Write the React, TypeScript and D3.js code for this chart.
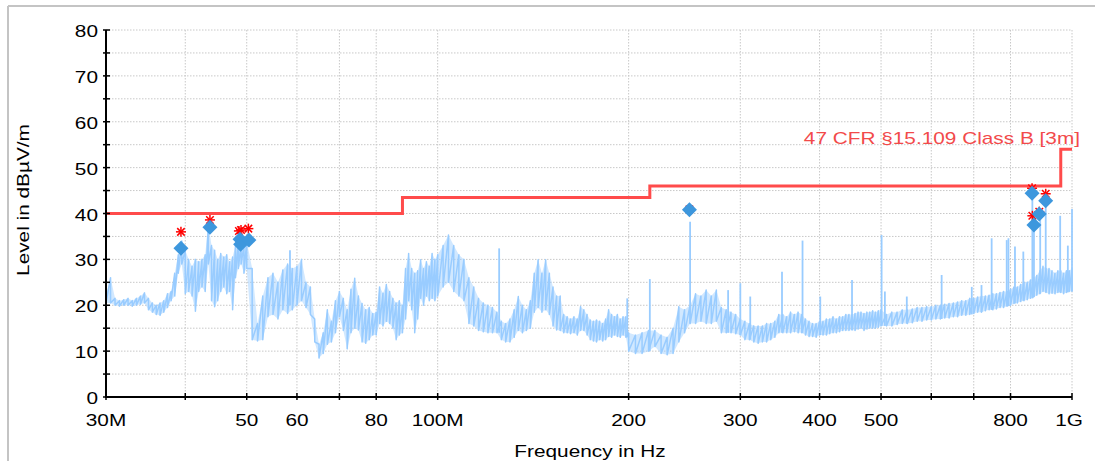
import React from "react";
import * as d3 from "d3";

const W = 1095;
const H = 461;

// ---- measured trace (MHz grid segments: start, step) ----
const segA = { start: 30, step: 0.5, n: 41 };
const segA_hi = [22, 26, 21.5, 21, 21.2, 21.5, 21, 21.5, 22, 22.7, 21.5, 20.5, 20, 20.5, 21, 22.5, 23, 27, 31, 34, 32, 30, 28.5, 30, 29.5, 30, 31, 37.8, 33, 32, 30, 31.3, 30.5, 31, 29.5, 30.5, 33, 34.2, 33.5, 33, 34];
const segA_lo = [20.5, 20.5, 20, 19.8, 20, 20, 19.8, 20, 20.2, 20.5, 19, 18.5, 18, 17.8, 18.5, 19.5, 21, 22, 27, 29, 22.5, 23, 22, 18.7, 23, 24, 23, 29, 21, 19.7, 21, 23, 24, 22.5, 23, 19, 26, 28, 29, 27, 28];

const segB = { start: 51, step: 1, n: 50 };
const segB_hi = [28, 16, 22, 26, 27, 25, 27.7, 29, 28, 28.5, 30, 25, 24, 17, 11.5, 14, 19, 16.5, 21, 23, 21.5, 19, 23.5, 25.9, 22, 20.4, 19, 19.5, 18.2, 18.5, 24, 22.6, 24.5, 23, 21.5, 20.5, 21, 20, 28, 31.3, 28, 27, 27.5, 29.9, 28, 29.5, 28.5, 31.3, 30, 31];
const segB_lo = [12.5, 12.2, 12.5, 17.5, 18, 17, 19, 18.2, 19, 20, 21, 19.5, 18, 12, 8.5, 9.5, 11.5, 12, 14, 17.5, 14.5, 10.5, 14, 15, 14.6, 12, 11.7, 12.5, 13.5, 13.5, 16, 15.5, 16.5, 16, 15, 12.5, 13.5, 14, 17, 21, 19, 14, 17, 21.5, 20, 22, 21, 21.5, 21, 22];

const segC = { start: 102, step: 2, n: 50 };
const segC_hi = [33, 35.3, 33, 31, 30, 26, 24, 21.5, 20.5, 20, 19.5, 18.5, 16.5, 16, 17, 19, 21.9, 20, 19, 21, 27, 29.9, 27, 29.9, 27, 24, 22, 22, 18, 17.5, 17, 17.5, 17, 19.7, 19, 18, 16.8, 16.5, 16.8, 16.5, 16, 17, 19, 18, 17.5, 18, 17, 17.5, 17.5, 14];
const segC_lo = [24, 25, 23, 22, 21, 16, 15.5, 14.5, 14.2, 14, 14, 14, 12.5, 12, 12, 13, 14.5, 14, 14.5, 15, 18.5, 19.5, 18.5, 19, 18, 15.5, 14.6, 14.5, 14, 14, 13.8, 14, 13.5, 14.5, 14.5, 13.5, 12.5, 12.2, 12, 12.5, 12.2, 12.5, 13.2, 13, 13.5, 13.2, 13, 13.5, 13, 10];

const segD = { start: 205, step: 5, n: 60 };
const segD_hi = [13.5, 14, 14.5, 14.5, 13.5, 13, 15, 19.7, 19, 20, 22.5, 22, 23.3, 22, 23.3, 19.5, 19, 18.5, 18, 17, 16.5, 16, 15.5, 15.5, 15.5, 16, 16, 16.5, 18, 18, 17.5, 18.5, 18, 18.5, 18, 17, 16.5, 16, 16, 16.5, 16.5, 17, 17, 17.5, 17, 17.5, 17.5, 18, 18, 18, 18.2, 18.5, 18.5, 18.2, 18.5, 18.5, 18.8, 18.5, 18.8, 19];
const segD_lo = [9.5, 9.5, 10, 11, 9.5, 9.2, 9.5, 12, 14, 16, 16, 16.5, 16, 16, 16.5, 14, 14, 14, 13.8, 13.5, 12.5, 12.5, 12, 11.7, 12, 12, 12.5, 13, 14, 14, 14, 14, 14.2, 14, 14, 13.5, 13.2, 13.2, 13, 13.5, 13.5, 13.5, 13.8, 14, 14, 14.2, 14.5, 14.5, 14.5, 14.6, 14.5, 14.8, 15, 14.5, 14.8, 15, 15, 15, 15.2, 15.5];

const segE = { start: 510, step: 10, n: 50 };
const segE_hi = [18, 18.5, 18.5, 19, 19, 19.2, 19.5, 19.5, 19.7, 19.7, 20, 20, 20.2, 20.4, 20.5, 20.7, 21, 21, 21.5, 21.5, 21.8, 22, 22, 22.2, 22.5, 22.5, 22.8, 23, 23, 23.5, 24, 24, 24.5, 25, 25, 25.5, 26, 26.5, 27.5, 28.5, 28, 28, 27.5, 27, 27.5, 27.5, 27, 27.5, 27.5, 28];
const segE_lo = [15.5, 15.5, 15.8, 16, 16, 16.2, 16.5, 16.5, 16.8, 16.8, 17, 17, 17.2, 17.2, 17.5, 17.5, 17.8, 17.8, 18, 18.2, 18.5, 18.5, 18.8, 19, 19, 19.2, 19.5, 19.5, 19.8, 20, 20.4, 20.5, 20.8, 21, 21.2, 21.5, 21.8, 22.2, 22.5, 23, 22.8, 22.5, 22.6, 22.5, 22.8, 22.8, 22.5, 22.8, 23, 23];

// narrowband spikes: frequency (MHz), top level, base level (dBµV/m)
const spikeFreq = [58.5, 125, 199, 216, 250, 287, 300, 311, 349, 376, 401, 450, 501, 507, 549, 623, 695, 720, 747, 789, 794, 813, 838, 866, 871, 891, 909, 958, 985, 1000];
const spikeTop = [32, 32.4, 21.5, 25.7, 38.2, 23.3, 24.8, 21.9, 27.3, 34.1, 21.9, 25.5, 35.3, 23, 21.9, 26.6, 24, 24.4, 34.6, 34.2, 34.6, 32.8, 31.7, 45, 37, 39.7, 42.2, 39.5, 33, 41];
const spikeBase = [20, 14, 13, 10, 16, 14, 13.5, 12.5, 14, 14, 13.5, 14.6, 15.5, 15.5, 16, 17, 18, 18.5, 19, 19.8, 19.8, 20.4, 21, 21.5, 21.8, 22.5, 22.8, 22.8, 22.8, 23];

// limit line 47 CFR §15.109 Class B [3m]
const limitFreq = [30, 88, 88, 216, 216, 960, 960, 1000];
const limitLvl = [40, 40, 43.5, 43.5, 46, 46, 54, 54];

// peak (asterisk) and quasi-peak (diamond) finals
const peakFreq = [39.38, 43.75, 48.6, 48.97, 50.3, 249.4, 865, 866, 888, 909];
const peakLvl = [36.0, 38.6, 36.2, 36.4, 36.7, 40.9, 45.5, 39.5, 40.4, 44.3];
const qpFreq = [39.38, 43.75, 48.8, 48.9, 50.4, 249.4, 865, 871, 888, 909];
const qpLvl = [32.4, 37.0, 34.4, 33.3, 34.2, 40.8, 44.4, 37.5, 39.9, 42.8];

// axes
const yTicks = [0, 10, 20, 30, 40, 50, 60, 70, 80];
const yMinor = [5, 15, 25, 35, 45, 55, 65, 75];
const gridFreq = [30, 40, 50, 60, 70, 80, 100, 200, 300, 400, 500, 600, 700, 800, 1000];
const xLabelFreq = [30, 50, 60, 80, 100, 200, 300, 400, 500, 800, 1000];
const xLabelText = ["30M", "50", "60", "80", "100M", "200", "300", "400", "500", "800", "1G"];

const FONT = "'Liberation Sans', Arial, Helvetica, sans-serif";
const SX = 1.3;

function grid(seg: { start: number; step: number; n: number }) {
  return d3.range(seg.n).map((i) => +(seg.start + i * seg.step).toFixed(3));
}

export default function App() {
  const x = d3.scaleLog().domain([30, 1000]).range([106, 1072]);
  const y = d3.scaleLinear().domain([0, 80]).range([397, 30]);

  const freqs = [...grid(segA), ...grid(segB), ...grid(segC), ...grid(segD), ...grid(segE)];
  const his = [...segA_hi, ...segB_hi, ...segC_hi, ...segD_hi, ...segE_hi];
  const los = [...segA_lo, ...segB_lo, ...segC_lo, ...segD_lo, ...segE_lo];

  const pts: [number, number][] = [];
  freqs.forEach((f, i) => {
    pts.push([x(f), y(his[i])]);
    pts.push([x(f), y(los[i])]);
  });
  const tracePath = d3.line()(pts) || "";
  const bandPath =
    d3
      .area<number>()
      .x((f) => x(f))
      .y0((_, i) => y(los[i]))
      .y1((_, i) => y(his[i]))(freqs) || "";

  const limitPath =
    d3.line()(limitFreq.map((f, i) => [x(f), y(limitLvl[i])] as [number, number])) || "";

  const x0 = x(30);
  const x1 = x(1000);
  const yb = y(0);

  return (
    <svg
      width={W}
      height={H}
      style={{ position: "absolute", left: 0, top: 0, background: "#fff" }}
      fontFamily={FONT}
    >
      {/* frame */}
      <line x1={8} y1={6} x2={W} y2={6} stroke="#c4c4c4" strokeWidth={2} />
      <line x1={8} y1={6} x2={8} y2={H} stroke="#c4c4c4" strokeWidth={2} />

      {/* grid */}
      {[...yMinor, ...yTicks.filter((v) => v > 0)].map((v) => (
        <line
          key={"gy" + v}
          x1={x0}
          x2={x1}
          y1={y(v)}
          y2={y(v)}
          stroke="#c8c8c8"
          strokeWidth={1}
          strokeDasharray="1.5,1.5"
        />
      ))}
      {gridFreq
        .filter((f) => f > 30)
        .map((f) => (
          <line
            key={"gx" + f}
            x1={x(f)}
            x2={x(f)}
            y1={y(80)}
            y2={yb}
            stroke="#c8c8c8"
            strokeWidth={1}
            strokeDasharray="1.5,1.5"
          />
        ))}

      {/* trace */}
      <path d={bandPath} fill="#99ccff" fillOpacity={0.45} stroke="none" />
      <path d={tracePath} fill="none" stroke="#99ccff" strokeWidth={1.5} strokeLinejoin="round" />
      {spikeFreq.map((f, i) => (
        <line
          key={"sp" + i}
          x1={x(f)}
          x2={x(f)}
          y1={y(spikeTop[i])}
          y2={y(spikeBase[i])}
          stroke="#99ccff"
          strokeWidth={1.8}
        />
      ))}

      {/* limit */}
      <path d={limitPath} fill="none" stroke="#ff4b4b" strokeWidth={3} />

      {/* axes */}
      <line x1={x0} x2={x0} y1={y(80)} y2={yb + 1} stroke="#000" strokeWidth={2} />
      <line x1={x0} x2={x1} y1={yb} y2={yb} stroke="#000" strokeWidth={2} />
      {[...yTicks, ...yMinor].map((v) => (
        <line key={"ty" + v} x1={x0 - 3} x2={x0 + 4} y1={y(v)} y2={y(v)} stroke="#000" strokeWidth={1.5} />
      ))}
      {gridFreq.map((f) => (
        <line key={"tx" + f} x1={x(f)} x2={x(f)} y1={yb - 4} y2={yb + 3} stroke="#000" strokeWidth={1.5} />
      ))}

      {/* y tick labels */}
      {yTicks.map((v) => (
        <text
          key={"ly" + v}
          transform={`translate(98,${y(v) + 7}) scale(${SX},1)`}
          textAnchor="end"
          fontSize={16}
          fill="#000"
        >
          {v}
        </text>
      ))}
      {/* x tick labels */}
      {xLabelFreq.map((f, i) => (
        <text
          key={"lx" + f}
          transform={`translate(${x(f) - (f === 1000 ? 3 : 0)},426) scale(${SX},1)`}
          textAnchor="middle"
          fontSize={16}
          fill="#000"
        >
          {xLabelText[i]}
        </text>
      ))}

      {/* axis titles */}
      <text
        transform={`translate(29,200) rotate(-90) scale(${SX},1)`}
        textAnchor="middle"
        fontSize={16}
        fill="#000"
      >
        Level in dBµV/m
      </text>
      <text transform={`translate(590,457) scale(${SX},1)`} textAnchor="middle" fontSize={16} fill="#000">
        Frequency in Hz
      </text>

      {/* limit legend */}
      <text transform={`translate(1080,144) scale(${SX},1)`} textAnchor="end" fontSize={16} fill="#f24a4a">
        47 CFR §15.109 Class B [3m]
      </text>

      {/* peak asterisks */}
      {peakFreq.map((f, i) => {
        const cx = x(f);
        const cy = y(peakLvl[i]);
        const r = 5;
        const d = r * 0.75;
        return (
          <g key={"pk" + i} stroke="#ff0000" strokeWidth={1.5}>
            <line x1={cx - r} x2={cx + r} y1={cy} y2={cy} />
            <line x1={cx} x2={cx} y1={cy - r} y2={cy + r} />
            <line x1={cx - d} x2={cx + d} y1={cy - d} y2={cy + d} />
            <line x1={cx - d} x2={cx + d} y1={cy + d} y2={cy - d} />
          </g>
        );
      })}

      {/* quasi-peak diamonds */}
      {qpFreq.map((f, i) => {
        const cx = x(f);
        const cy = y(qpLvl[i]);
        const r = 7.5;
        return (
          <polygon
            key={"qp" + i}
            points={`${cx},${cy - r} ${cx + r},${cy} ${cx},${cy + r} ${cx - r},${cy}`}
            fill="#3d97dd"
          />
        );
      })}
    </svg>
  );
}
